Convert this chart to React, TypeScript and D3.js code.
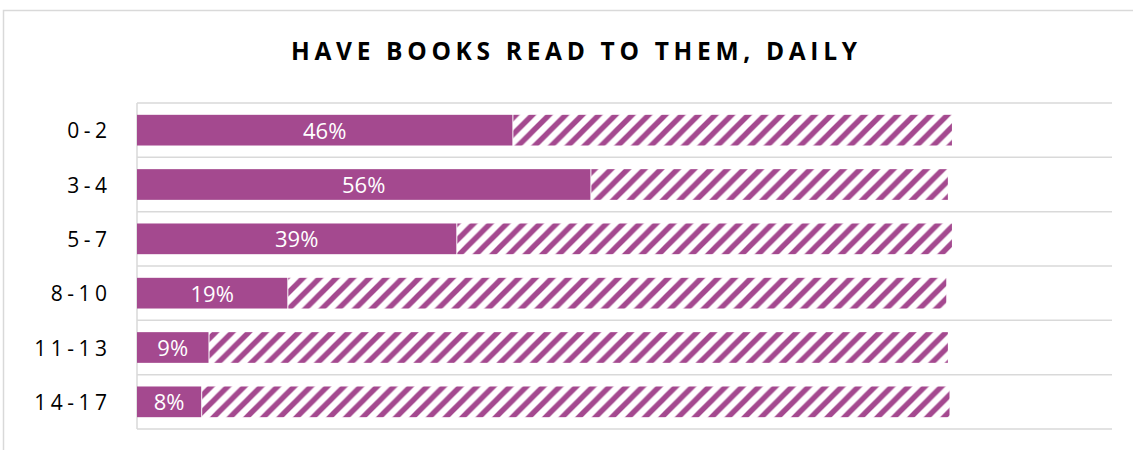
import React from "react";
import * as d3 from "d3";

const categories = ["0-2", "3-4", "5-7", "8-10", "11-13", "14-17"];
const dailyValues = [46.2, 55.8, 39.3, 18.5, 8.8, 7.9];
const remainderValues = [54.1, 44.0, 61.0, 81.1, 91.0, 92.1];
const title = "HAVE BOOKS READ TO THEM, DAILY";
const xMax = 120;

const W = 1133;
const H = 450;
const purple = "#A4498F";
const grid = "#D9D9D9";

export default function App() {
  const x = d3.scaleLinear().domain([0, xMax]).range([137, 1112]);
  const pad = 0.435;
  const y = d3
    .scaleBand<string>()
    .domain(categories)
    .range([103, 429])
    .paddingInner(pad)
    .paddingOuter(pad / 2);
  const step = y.step();
  const bw = y.bandwidth();
  const gridYs = categories.map((c) => (y(c) as number) - (step * pad) / 2);
  gridYs.push(429);

  return (
    <svg
      width={W}
      height={H}
      style={{ position: "absolute", left: 0, top: 0, background: "#fff" }}
      fontFamily="'Open Sans', sans-serif"
    >
      <defs>
        <pattern
          id="hatch"
          patternUnits="userSpaceOnUse"
          width={16.6}
          height={16.6}
        >
          <rect width={16.6} height={16.6} fill="#fff" />
          <path
            d="M-4.15,4.15 L4.15,-4.15 M0,16.6 L16.6,0 M12.45,20.75 L20.75,12.45"
            stroke={purple}
            strokeWidth={5.4}
          />
        </pattern>
      </defs>
      {/* chart area border */}
      <rect x={3.5} y={10.5} width={W + 20} height={H + 20} fill="none" stroke={grid} strokeWidth={1.5} />
      {/* title */}
      <text
        x={574}
        y={59.5}
        textAnchor="middle"
        fontSize={24.5}
        fontWeight={700}
        fill="#000"
        textLength={566}
        lengthAdjust="spacing"
      >
        {title}
      </text>
      {/* gridlines */}
      {gridYs.map((gy, i) => (
        <line key={i} x1={137} x2={1112} y1={gy} y2={gy} stroke={grid} strokeWidth={1.5} />
      ))}
      <line x1={137} x2={137} y1={103} y2={429} stroke={grid} strokeWidth={1.5} />
      {/* bars */}
      {categories.map((c, i) => {
        const by = y(c) as number;
        const x0 = x(0);
        const x1 = x(dailyValues[i]);
        const x2 = x(dailyValues[i] + remainderValues[i]);
        return (
          <g key={c}>
            <rect x={x0} y={by} width={x1 - x0} height={bw} fill={purple} />
            <rect x={x1 + 1} y={by} width={x2 - x1 - 1} height={bw} fill="url(#hatch)" />
            <text
              x={(x0 + x1) / 2}
              y={by + bw / 2 + 8.5}
              textAnchor="middle"
              fontSize={22}
              fill="#fff"
            >
              {Math.round(dailyValues[i]) + "%"}
            </text>
            <text
              x={107 + 4.5}
              y={by + bw / 2 + 8}
              textAnchor="end"
              fontSize={21}
              letterSpacing={4.5}
              fill="#000"
            >
              {c}
            </text>
          </g>
        );
      })}
    </svg>
  );
}
